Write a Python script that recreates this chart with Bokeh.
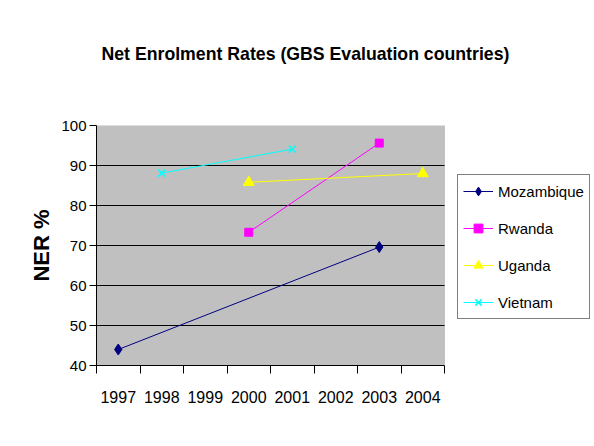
from bokeh.plotting import figure
from bokeh.models import Range1d, FixedTicker, Legend, LegendItem, BoxAnnotation, Title
from bokeh.embed import file_html
from bokeh.resources import INLINE

title_text = "Net Enrolment Rates (GBS Evaluation countries)"
y_label = "NER %"
years = [1997, 1998, 1999, 2000, 2001, 2002, 2003, 2004]
countries = ["Mozambique", "Rwanda", "Uganda", "Vietnam"]
mozambique = [44.0, None, None, None, None, None, 69.6, None]
rwanda = [None, None, None, 73.3, None, None, 95.6, None]
uganda = [None, None, None, 85.8, None, None, None, 88.0]
vietnam = [None, 88.1, None, None, 94.1, None, None, None]
y_ticks = [40, 50, 60, 70, 80, 90, 100]

series = [mozambique, rwanda, uganda, vietnam]
colors = ["#000080", "#FF00FF", "#FFFF00", "#00FFFF"]
markers = ["diamond", "square", "triangle", "x"]
sizes = [11, 8, 11, 10]

FONT = "Liberation Sans"

W, H = 594, 446
FL, FT, FB = 96, 125, 81
PLOT_W = 348                     # width of the grey plotting area
FRAME_W = W - FL                 # frame runs to the right edge (legend lives there)
x0, x1 = years[0] - 0.5, years[-1] + 0.5
x_end = x0 + (x1 - x0) * FRAME_W / PLOT_W

p = figure(frame_width=FRAME_W, frame_height=H - FT - FB,
           output_backend="svg", toolbar_location=None,
           x_range=Range1d(x0, x_end), y_range=Range1d(y_ticks[0], y_ticks[-1]),
           min_border_left=FL, min_border_right=0, min_border_top=FT, min_border_bottom=FB)
p.background_fill_color = "white"
p.border_fill_color = "white"
p.outline_line_color = None

# grey plotting area
p.add_layout(BoxAnnotation(left=x0, right=x1, bottom=y_ticks[0], top=y_ticks[-1],
                           fill_color="#C0C0C0", fill_alpha=1,
                           line_color="#808080", line_width=1, level="underlay"))

# spacer between frame and title, then the title itself
p.add_layout(Title(text=" ", text_font_size="10px", standoff=48), "above")
p.add_layout(Title(text=title_text, text_font=FONT, text_font_style="bold",
                   text_font_size="17.7px", text_color="black", align="left",
                   offset=5, standoff=0, vertical_align="middle"), "above")

# x axis: labels at year centres, tick marks at boundaries
xa = p.xaxis[0]
xa.bounds = (x0, x1)
xa.ticker = FixedTicker(ticks=years, minor_ticks=[y - 0.5 for y in years] + [x1])
xa.major_tick_in = 0
xa.major_tick_out = 0
xa.minor_tick_in = 0
xa.minor_tick_out = 8
xa.minor_tick_line_color = "black"
xa.axis_line_color = "black"
xa.major_label_text_font = FONT
xa.major_label_text_font_size = "16px"
xa.major_label_text_color = "black"
xa.major_label_standoff = 17

ya = p.yaxis[0]
ya.ticker = FixedTicker(ticks=y_ticks)
ya.major_tick_in = 0
ya.major_tick_out = 7
ya.minor_tick_out = 0
ya.minor_tick_line_color = None
ya.axis_line_color = "black"
ya.major_tick_line_color = "black"
ya.major_label_text_font = FONT
ya.major_label_text_font_size = "15px"
ya.major_label_text_color = "black"
ya.major_label_standoff = 3
ya.axis_label = y_label
ya.axis_label_text_font = FONT
ya.axis_label_text_font_style = "bold"
ya.axis_label_text_font_size = "22px"
ya.axis_label_text_color = "black"
ya.axis_label_standoff = 4

p.xgrid.visible = False
p.ygrid.visible = False
# horizontal gridlines across the grey area only
inner = y_ticks[1:-1]
p.segment(x0=[x0] * len(inner), x1=[x1] * len(inner), y0=inner, y1=inner,
          line_color="black", line_width=1)

items = []
for name, vals, col, mk, sz in zip(countries, series, colors, markers, sizes):
    xs = [yr for yr, v in zip(years, vals) if v is not None]
    ys = [v for v in vals if v is not None]
    ln = p.line(xs, ys, line_color=col, line_width=1)
    sc = p.scatter(xs, ys, marker=mk, size=sz, fill_color=col, line_color=col,
                   line_width=1.5 if mk == "x" else 1)
    items.append(LegendItem(label=name, renderers=[ln, sc]))

legend = Legend(items=items, location=(361, 46), orientation="vertical",
                border_line_color="black", border_line_width=1,
                background_fill_color="white", background_fill_alpha=1,
                label_text_font=FONT, label_text_font_size="15px",
                label_text_color="black",
                glyph_width=30, glyph_height=22, label_height=22,
                spacing=15, padding=5, margin=0, label_standoff=5)
p.add_layout(legend, "center")

open("out.html", "w").write(file_html(p, INLINE))
